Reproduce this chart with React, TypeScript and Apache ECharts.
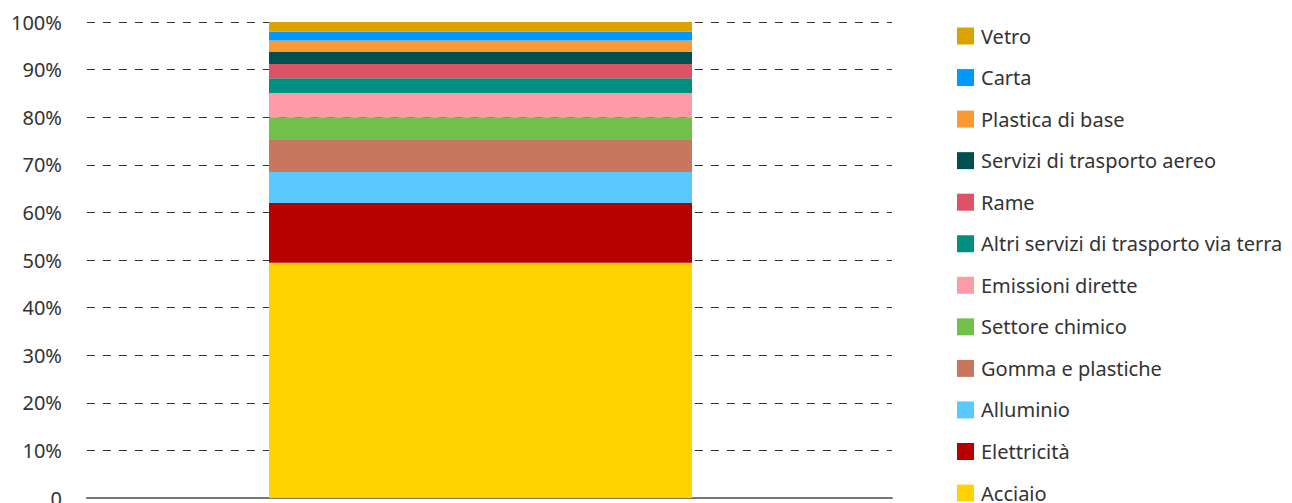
import React, { useEffect, useRef } from "react";
import * as echarts from "echarts";

const categories = ["Totale"];
const seriesNames = [
  "Acciaio",
  "Elettricità",
  "Alluminio",
  "Gomma e plastiche",
  "Settore chimico",
  "Emissioni dirette",
  "Altri servizi di trasporto via terra",
  "Rame",
  "Servizi di trasporto aereo",
  "Plastica di base",
  "Carta",
  "Vetro",
];
const seriesValues = [49.4, 12.6, 6.5, 6.7, 4.8, 5.1, 3.1, 3.0, 2.5, 2.4, 1.9, 2.0];
const seriesColors = [
  "#FFD200",
  "#B70000",
  "#5BC9FF",
  "#C8775F",
  "#70C04A",
  "#FF9BA7",
  "#008F80",
  "#DE5266",
  "#005052",
  "#F99A35",
  "#0099FF",
  "#DAA300",
];
const tickLabels = ["0", "10%", "20%", "30%", "40%", "50%", "60%", "70%", "80%", "90%", "100%"];

const FONT = "'Noto Sans', Lato, sans-serif";

export default function App() {
  const ref = useRef<HTMLDivElement>(null);
  useEffect(() => {
    document.documentElement.style.overflow = "hidden";
    document.body.style.overflow = "hidden";
    const chart = echarts.init(ref.current!, null, { renderer: "svg" });
    chart.setOption({
      animation: false,
      grid: [
        { left: 78, right: 400, top: 14, bottom: 30, containLabel: false },
        { left: 78, right: 417, top: 14, bottom: 30, containLabel: false },
      ],
      legend: {
        orient: "vertical",
        left: 944,
        top: 13,
        itemWidth: 17,
        itemHeight: 17,
        itemGap: 21.55,
        icon: "rect",
        data: seriesNames.slice().reverse(),
        textStyle: {
          fontFamily: FONT,
          fontSize: 20,
          color: "#333",
          padding: [0, 0, 0, 2],
          lineHeight: 20,
        },
        selectedMode: false,
      },
      xAxis: [
        {
          type: "category",
          gridIndex: 0,
          data: categories,
          axisLabel: { show: false },
          axisTick: { show: false },
          axisLine: { show: true, lineStyle: { color: "#777", width: 2 } },
        },
        {
          type: "category",
          gridIndex: 1,
          data: categories,
          show: false,
        },
      ],
      yAxis: [
        {
          type: "value",
          gridIndex: 0,
          min: 0,
          max: 100,
          interval: 10,
          axisLine: { show: false },
          axisTick: { show: false },
          axisLabel: {
            fontFamily: FONT,
            fontSize: 20,
            color: "#333",
            margin: 25,
            formatter: (v: number) => tickLabels[Math.round(v / 10)],
          },
          splitLine: {
            show: true,
            lineStyle: { color: "#333", width: 1, type: [8, 8] },
          },
        },
        {
          type: "value",
          gridIndex: 1,
          min: 0,
          max: 100,
          interval: 10,
          show: false,
          splitLine: { show: false },
        },
      ],
      series: seriesNames.map((name, i) => ({
        name,
        type: "bar",
        stack: "total",
        xAxisIndex: 1,
        yAxisIndex: 1,
        barWidth: 423,
        itemStyle: { color: seriesColors[i] },
        data: [seriesValues[i]],
        z: 3,
      })),
    });
    return () => chart.dispose();
  }, []);
  return <div ref={ref} style={{ width: 1284, height: 520 }} />;
}
